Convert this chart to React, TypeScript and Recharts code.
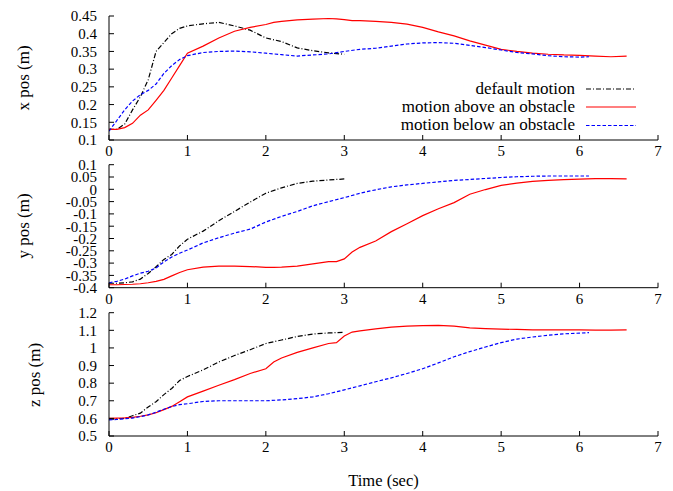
import React from "react";
import { LineChart, Line, XAxis, YAxis } from "recharts";

// time stamps (sec) for each run
const defaultT = [0, 0.1, 0.2, 0.3, 0.4, 0.5, 0.6, 0.7, 0.8, 0.9, 1.0, 1.2, 1.4, 1.6, 1.8, 2.0, 2.2, 2.4, 2.6, 2.8, 3.0];
const aboveT = [0, 0.1, 0.2, 0.3, 0.4, 0.5, 0.6, 0.7, 0.8, 0.9, 1.0, 1.2, 1.4, 1.6, 1.8, 2.0, 2.1, 2.2, 2.4, 2.6, 2.8, 2.9, 3.0, 3.1, 3.2, 3.4, 3.6, 3.8, 4.0, 4.2, 4.4, 4.6, 4.8, 5.0, 5.2, 5.4, 5.6, 5.8, 6.0, 6.2, 6.4, 6.6];
const belowT = [0, 0.1, 0.2, 0.3, 0.4, 0.5, 0.6, 0.7, 0.8, 0.9, 1.0, 1.2, 1.4, 1.6, 1.8, 2.0, 2.2, 2.4, 2.6, 2.8, 3.0, 3.2, 3.4, 3.6, 3.8, 4.0, 4.2, 4.4, 4.6, 4.8, 5.0, 5.2, 5.4, 5.6, 5.8, 6.0, 6.12];

// x position (m)
const defaultX = [0.13, 0.13, 0.145, 0.185, 0.222, 0.27, 0.35, 0.375, 0.4, 0.415, 0.422, 0.428, 0.432, 0.422, 0.41, 0.388, 0.378, 0.36, 0.352, 0.346, 0.342];
const aboveX = [0.13, 0.13, 0.135, 0.147, 0.17, 0.185, 0.212, 0.24, 0.275, 0.31, 0.345, 0.365, 0.388, 0.407, 0.418, 0.426, 0.432, 0.435, 0.439, 0.441, 0.443, 0.442, 0.44, 0.437, 0.437, 0.435, 0.432, 0.427, 0.418, 0.405, 0.394, 0.38, 0.368, 0.356, 0.35, 0.345, 0.342, 0.34, 0.339, 0.337, 0.335, 0.337];
const belowX = [0.125, 0.155, 0.185, 0.21, 0.228, 0.24, 0.258, 0.288, 0.31, 0.327, 0.338, 0.347, 0.35, 0.351, 0.349, 0.345, 0.341, 0.337, 0.34, 0.343, 0.35, 0.356, 0.359, 0.365, 0.371, 0.374, 0.375, 0.373, 0.367, 0.361, 0.354, 0.347, 0.343, 0.338, 0.335, 0.334, 0.335];

// y position (m)
const defaultY = [-0.382, -0.382, -0.38, -0.376, -0.365, -0.342, -0.315, -0.285, -0.265, -0.23, -0.203, -0.17, -0.128, -0.09, -0.052, -0.016, 0.006, 0.024, 0.033, 0.038, 0.042];
const aboveY = [-0.388, -0.388, -0.387, -0.386, -0.384, -0.38, -0.374, -0.366, -0.352, -0.338, -0.327, -0.316, -0.312, -0.312, -0.314, -0.317, -0.317, -0.316, -0.312, -0.303, -0.294, -0.294, -0.283, -0.255, -0.236, -0.21, -0.172, -0.14, -0.107, -0.079, -0.054, -0.02, -0.001, 0.016, 0.025, 0.032, 0.036, 0.039, 0.041, 0.043, 0.043, 0.042];
const belowY = [-0.38, -0.374, -0.365, -0.352, -0.341, -0.333, -0.32, -0.295, -0.275, -0.26, -0.247, -0.218, -0.197, -0.178, -0.162, -0.133, -0.11, -0.09, -0.067, -0.05, -0.034, -0.016, -0.002, 0.01, 0.018, 0.024, 0.03, 0.036, 0.04, 0.044, 0.048, 0.051, 0.053, 0.054, 0.054, 0.054, 0.054];

// z position (m)
const defaultZ = [0.595, 0.597, 0.6, 0.615, 0.63, 0.665, 0.695, 0.735, 0.77, 0.815, 0.838, 0.875, 0.92, 0.957, 0.99, 1.025, 1.045, 1.065, 1.079, 1.085, 1.089];
const aboveZ = [0.6, 0.602, 0.603, 0.606, 0.612, 0.62, 0.632, 0.65, 0.668, 0.695, 0.722, 0.755, 0.788, 0.82, 0.855, 0.882, 0.92, 0.943, 0.975, 1.0, 1.025, 1.03, 1.068, 1.09, 1.097, 1.108, 1.118, 1.124, 1.127, 1.128, 1.124, 1.114, 1.11, 1.107, 1.105, 1.103, 1.102, 1.102, 1.102, 1.101, 1.101, 1.102];
const belowZ = [0.591, 0.594, 0.598, 0.602, 0.61, 0.62, 0.635, 0.652, 0.667, 0.678, 0.683, 0.696, 0.7, 0.7, 0.7, 0.7, 0.705, 0.712, 0.722, 0.74, 0.762, 0.785, 0.808, 0.83, 0.855, 0.882, 0.915, 0.95, 0.979, 1.005, 1.03, 1.05, 1.062, 1.072, 1.08, 1.084, 1.087];

// tick labels
const timeTicks = [0, 1, 2, 3, 4, 5, 6, 7];
const xTicks = [0.1, 0.15, 0.2, 0.25, 0.3, 0.35, 0.4, 0.45];
const yTicks = [-0.4, -0.35, -0.3, -0.25, -0.2, -0.15, -0.1, -0.05, 0, 0.05, 0.1];
const zTicks = [0.5, 0.6, 0.7, 0.8, 0.9, 1, 1.1, 1.2];

const seriesNames = ["default motion", "motion above an obstacle", "motion below an obstacle"];
const seriesColors = ["#000000", "#ff0000", "#0000ff"];
const seriesDash = ["5 2 1 2", undefined, "3.5 2"];

const FONT = "'Liberation Serif', 'Times New Roman', serif";

const rows = (t: number[], v: number[]) => t.map((tt, i) => ({ t: tt, v: v[i] }));
const fmt = (v: number) => String(+v.toFixed(2));

type PanelProps = {
  top: number;
  height: number;
  marginTop: number;
  axisHeight: number;
  ticks: number[];
  values: number[][];
};

function Panel({ top, height, marginTop, axisHeight, ticks, values }: PanelProps) {
  const times = [defaultT, aboveT, belowT];
  const domain = [ticks[0], ticks[ticks.length - 1]];
  const tickStyle = { fill: "#000", fontSize: 15, fontFamily: FONT };
  return (
    <div style={{ position: "absolute", left: 0, top }}>
      <LineChart width={673} height={height} margin={{ top: marginTop, right: 15, bottom: 0, left: 49 }}>
        <XAxis
          type="number"
          dataKey="t"
          domain={[0, 7]}
          ticks={timeTicks}
          interval={0}
          allowDataOverflow
          height={axisHeight}
          tickSize={-5}
          tickMargin={10.5}
          stroke="#000"
          tick={tickStyle}
        />
        <XAxis
          xAxisId="top"
          orientation="top"
          type="number"
          domain={[0, 7]}
          ticks={timeTicks}
          interval={0}
          height={0}
          tickSize={-5}
          stroke="#000"
          tick={false}
        />
        <YAxis
          type="number"
          domain={domain}
          ticks={ticks}
          interval={0}
          allowDataOverflow
          width={60}
          tickSize={-5}
          tickMargin={17}
          stroke="#000"
          tick={tickStyle}
          tickFormatter={fmt}
        />
        <YAxis
          yAxisId="right"
          orientation="right"
          type="number"
          domain={domain}
          ticks={ticks}
          interval={0}
          width={0}
          tickSize={-5}
          stroke="#000"
          tick={false}
        />
        {values.map((v, i) => (
          <Line
            key={seriesNames[i]}
            name={seriesNames[i]}
            data={rows(times[i], v)}
            dataKey="v"
            type="linear"
            stroke={seriesColors[i]}
            strokeDasharray={seriesDash[i]}
            strokeWidth={1.2}
            dot={false}
            isAnimationActive={false}
          />
        ))}
      </LineChart>
    </div>
  );
}

const legendRows = [89, 107, 125.5];

export default function App() {
  return (
    <div style={{ position: "absolute", left: 0, top: 0, width: 673, height: 491, background: "#fff" }}>
      <Panel top={0} height={165} marginTop={16} axisHeight={25} ticks={xTicks} values={[defaultX, aboveX, belowX]} />
      <Panel top={150} height={165} marginTop={14.7} axisHeight={27.3} ticks={yTicks} values={[defaultY, aboveY, belowY]} />
      <Panel top={298} height={160} marginTop={14.7} axisHeight={22} ticks={zTicks} values={[defaultZ, aboveZ, belowZ]} />
      <svg width={673} height={491} style={{ position: "absolute", left: 0, top: 0, pointerEvents: "none" }}>
        <g fontFamily={FONT} fill="#000">
          <g fontSize={17}>
            <text transform="translate(23,78) rotate(-90)" textAnchor="middle" dy="0.35em">x pos (m)</text>
            <text transform="translate(23,226) rotate(-90)" textAnchor="middle" dy="0.35em">y pos (m)</text>
            <text transform="translate(34,375) rotate(-90)" textAnchor="middle" dy="0.35em">z pos (m)</text>
          </g>
          <text x={383.5} y={486} fontSize={16.5} textAnchor="middle">Time (sec)</text>
          {seriesNames.map((n, i) => (
            <g key={n}>
              <text x={575} y={legendRows[i] + 4.5} fontSize={17} textAnchor="end">{n}</text>
              <line
                x1={586}
                x2={636}
                y1={legendRows[i]}
                y2={legendRows[i]}
                stroke={seriesColors[i]}
                strokeDasharray={seriesDash[i]}
                strokeWidth={1.2}
              />
            </g>
          ))}
        </g>
      </svg>
    </div>
  );
}
